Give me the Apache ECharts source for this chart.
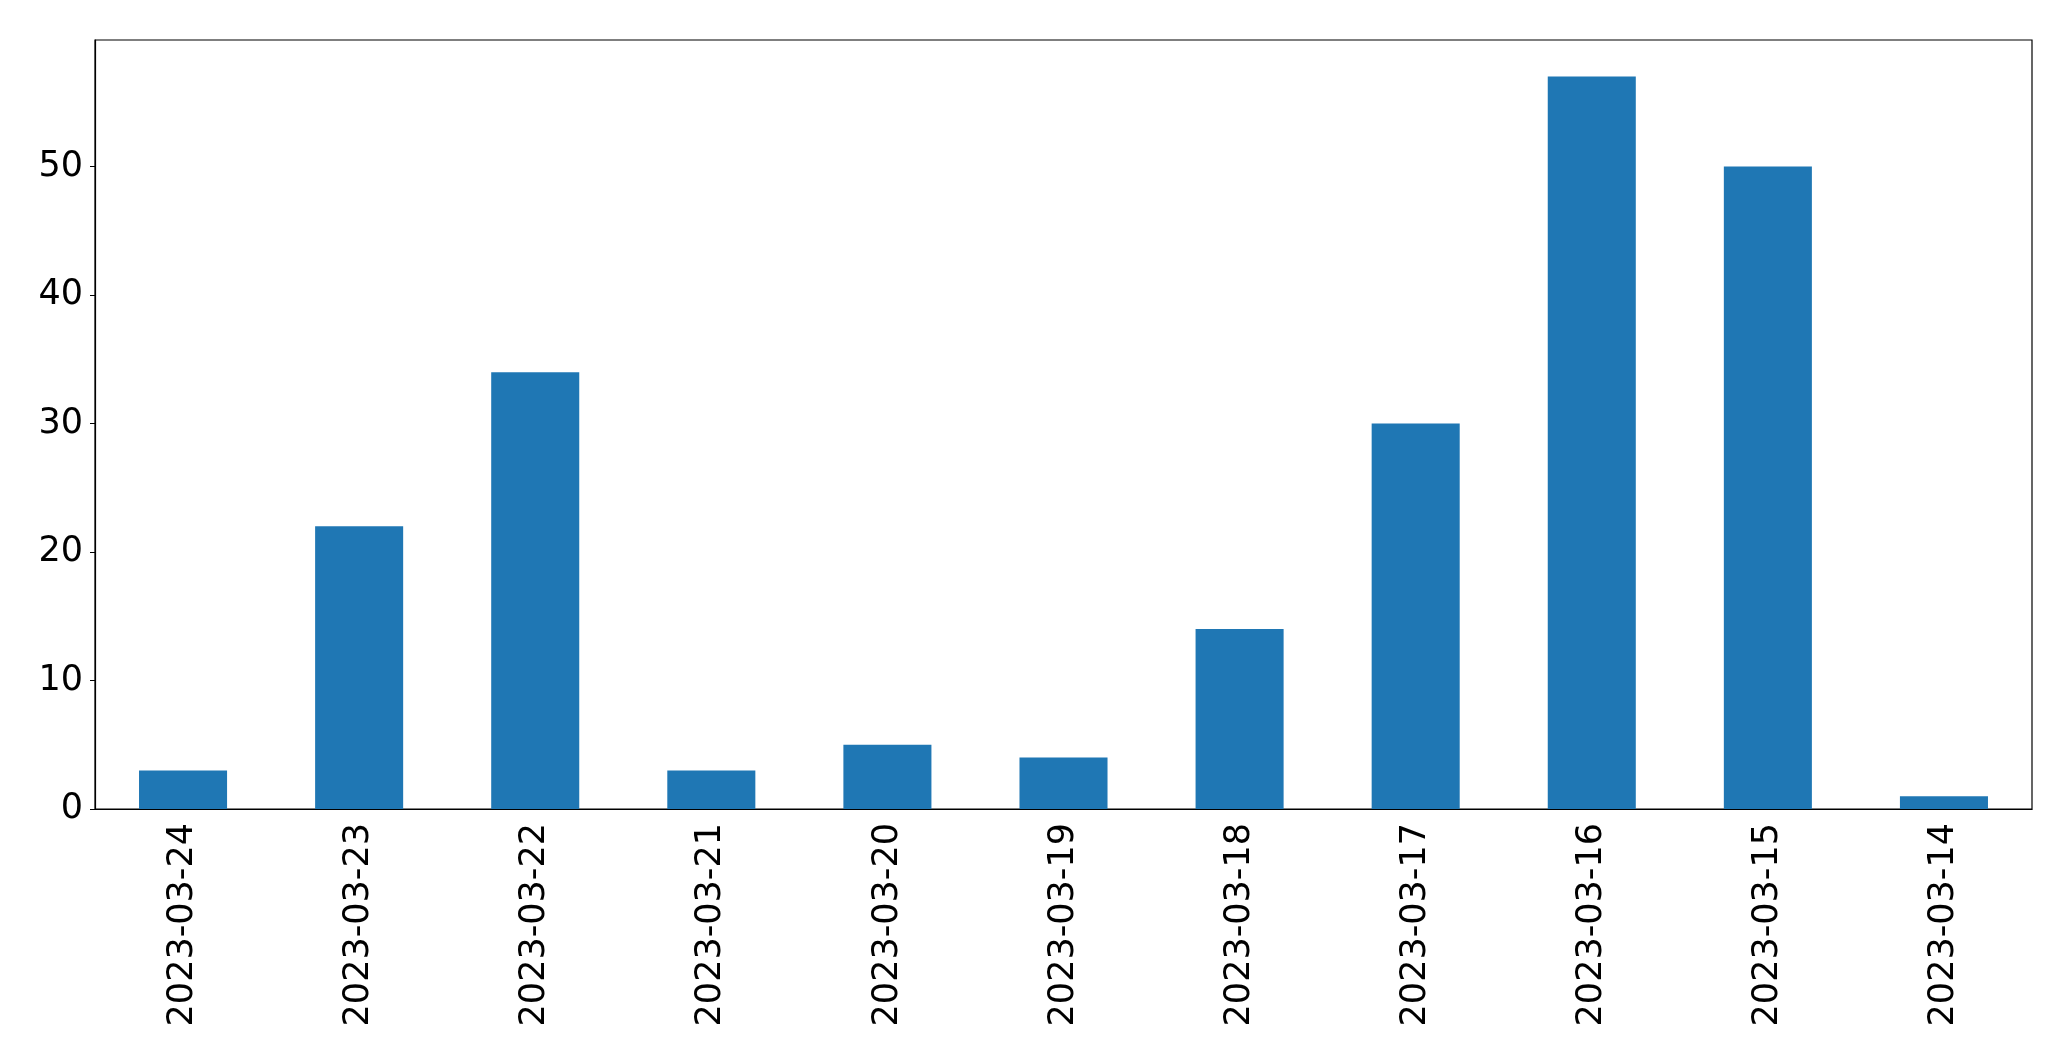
<!DOCTYPE html>
<html>
<head>
<meta charset="utf-8">
<script src="https://cdn.jsdelivr.net/npm/echarts@6/dist/echarts.min.js"></script>
<style>
  html, body { margin: 0; padding: 0; background: #fff; }
  #chart { width: 2071px; height: 1061px; }
</style>
</head>
<body>
<div id="chart"></div>
<script>
// dates on the x axis (newest first, as in the picture)
const dates = ['2023-03-24', '2023-03-23', '2023-03-22', '2023-03-21', '2023-03-20',
  '2023-03-19', '2023-03-18', '2023-03-17', '2023-03-16', '2023-03-15', '2023-03-14'];
// bar heights
const counts = [3, 22, 34, 3, 5, 4, 14, 30, 57, 50, 1];
// y tick values
const yTicks = [0, 10, 20, 30, 40, 50];

const mychart = echarts.init(document.getElementById('chart'));
const font = 'DejaVu Sans';
const option = {
  animation: false,
  grid: {
    left: 95, right: 39, top: 40, bottom: 252,
    show: true, borderColor: '#000', borderWidth: 1.2, backgroundColor: 'transparent'
  },
  xAxis: {
    type: 'category',
    data: dates,
    axisLine: { lineStyle: { color: '#000', width: 1.2 } },
    axisTick: { alignWithLabel: true, length: 5, lineStyle: { color: '#000', width: 1 } },
    axisLabel: { rotate: 90, margin: 14, fontSize: 35, fontFamily: font, color: '#000' },
    splitLine: { show: false }
  },
  yAxis: {
    type: 'value',
    min: 0,
    max: 59.85,
    axisLine: { show: true, lineStyle: { color: '#000', width: 1.2 } },
    axisTick: { show: true, length: 5, customValues: yTicks, lineStyle: { color: '#000', width: 1 } },
    axisLabel: { margin: 12, fontSize: 35, fontFamily: font, color: '#000', customValues: yTicks },
    splitLine: { show: false }
  },
  series: [
    {
      type: 'bar',
      data: counts,
      barWidth: '50%',
      itemStyle: { color: '#1f77b4' }
    }
  ]
};
mychart.setOption(option);
</script>
</body>
</html>
